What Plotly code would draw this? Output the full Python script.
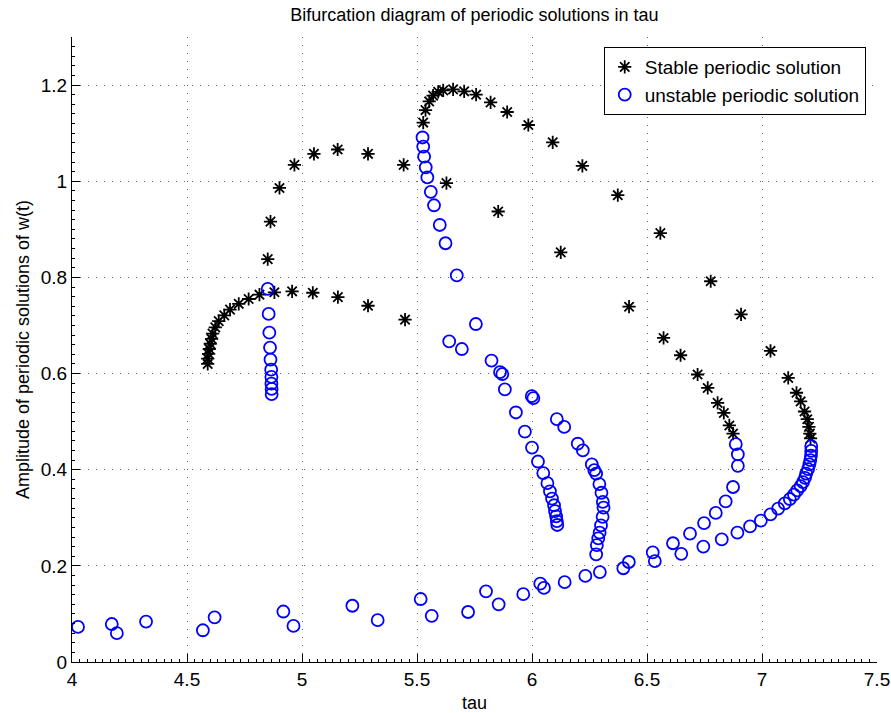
import plotly.graph_objects as go

# ---- Stable periodic solutions (tau, amplitude) ----
stable_a_tau = [4.590, 4.590, 4.594, 4.597, 4.601, 4.607, 4.611, 4.623, 4.638, 4.662,
                4.687, 4.725, 4.768, 4.815, 4.880, 4.957, 5.047, 5.156, 5.287, 5.448]
stable_a_amp = [0.620, 0.631, 0.641, 0.651, 0.662, 0.672, 0.683, 0.696, 0.709, 0.721,
                0.733, 0.745, 0.755, 0.764, 0.769, 0.771, 0.768, 0.759, 0.741, 0.712]

stable_b_tau = [4.851, 4.863, 4.902, 4.967, 5.052, 5.155, 5.287, 5.442, 5.628, 5.853,
                6.125, 6.422, 6.572, 6.646, 6.720, 6.764, 6.807, 6.834, 6.858, 6.874]
stable_b_amp = [0.838, 0.916, 0.986, 1.034, 1.057, 1.066, 1.057, 1.034, 0.996, 0.937,
                0.852, 0.739, 0.674, 0.638, 0.598, 0.570, 0.539, 0.518, 0.492, 0.475]

stable_c_tau = [5.527, 5.537, 5.553, 5.570, 5.592, 5.614, 5.657, 5.705, 5.757, 5.820,
                5.892, 5.984, 6.090, 6.219, 6.373, 6.558, 6.777, 6.909, 7.037, 7.114,
                7.150, 7.168, 7.185, 7.197, 7.204, 7.208, 7.211]
stable_c_amp = [1.122, 1.148, 1.166, 1.178, 1.186, 1.189, 1.191, 1.187, 1.180, 1.164,
                1.144, 1.117, 1.081, 1.032, 0.971, 0.892, 0.792, 0.723, 0.647, 0.591,
                0.560, 0.542, 0.521, 0.505, 0.489, 0.475, 0.465]

# ---- Unstable periodic solutions (tau, amplitude) ----
unstable_a_tau = [4.851, 4.855, 4.858, 4.861, 4.863, 4.866, 4.867, 4.867, 4.868, 4.868]
unstable_a_amp = [0.776, 0.724, 0.685, 0.654, 0.629, 0.608, 0.593, 0.579, 0.568, 0.557]

unstable_b_tau = [5.524, 5.527, 5.531, 5.538, 5.545, 5.560, 5.574, 5.599, 5.624, 5.673,
                  5.756, 5.640, 5.695, 5.824, 5.861, 5.871, 5.882, 5.930, 5.969, 6.000,
                  6.026, 6.049, 6.067, 6.078, 6.087, 6.096, 6.100, 6.105, 6.108, 6.110]
unstable_b_amp = [1.091, 1.072, 1.051, 1.029, 1.008, 0.978, 0.950, 0.909, 0.871, 0.804,
                  0.703, 0.667, 0.651, 0.627, 0.603, 0.599, 0.567, 0.519, 0.479, 0.446,
                  0.417, 0.393, 0.372, 0.355, 0.340, 0.326, 0.314, 0.303, 0.293, 0.285]

unstable_c_tau = [5.999, 6.006, 6.108, 6.140, 6.199, 6.221, 6.260, 6.271, 6.279, 6.293,
                  6.302, 6.308, 6.311, 6.307, 6.300, 6.294, 6.288, 6.282, 6.279]
unstable_c_amp = [0.553, 0.549, 0.505, 0.489, 0.454, 0.440, 0.411, 0.399, 0.392, 0.370,
                  0.352, 0.333, 0.321, 0.302, 0.284, 0.269, 0.257, 0.243, 0.224]

unstable_d_tau = [6.886, 6.895, 6.895]
unstable_d_amp = [0.453, 0.432, 0.408]

unstable_e_tau = [4.026, 4.173, 4.195, 4.322, 4.569, 4.620, 4.919, 4.963, 5.219, 5.329,
                  5.516, 5.564, 5.722, 5.800, 5.855, 5.962, 6.036, 6.052, 6.142, 6.232,
                  6.295, 6.397, 6.421, 6.525, 6.534, 6.613, 6.649, 6.687, 6.745, 6.748,
                  6.799, 6.825, 6.842, 6.874, 6.893, 6.948, 6.995, 7.037, 7.070, 7.099,
                  7.121, 7.139, 7.153, 7.168, 7.178, 7.187, 7.192, 7.200, 7.206, 7.210,
                  7.213, 7.214, 7.214]
unstable_e_amp = [0.073, 0.079, 0.060, 0.084, 0.066, 0.093, 0.105, 0.075, 0.117, 0.087,
                  0.131, 0.096, 0.104, 0.147, 0.120, 0.141, 0.163, 0.154, 0.166, 0.179,
                  0.187, 0.195, 0.208, 0.228, 0.210, 0.247, 0.225, 0.267, 0.240, 0.289,
                  0.310, 0.255, 0.334, 0.364, 0.269, 0.282, 0.294, 0.307, 0.319, 0.330,
                  0.339, 0.348, 0.357, 0.366, 0.374, 0.383, 0.392, 0.401, 0.411, 0.420,
                  0.429, 0.439, 0.449]

x_ticks = [4, 4.5, 5, 5.5, 6, 6.5, 7, 7.5]
x_tick_labels = ["4", "4.5", "5", "5.5", "6", "6.5", "7", "7.5"]
y_ticks = [0, 0.2, 0.4, 0.6, 0.8, 1, 1.2]
y_tick_labels = ["0", "0.2", "0.4", "0.6", "0.8", "1", "1.2"]

stable_tau = stable_a_tau + stable_b_tau + stable_c_tau
stable_amp = stable_a_amp + stable_b_amp + stable_c_amp
unstable_tau = unstable_a_tau + unstable_b_tau + unstable_c_tau + unstable_d_tau + unstable_e_tau
unstable_amp = unstable_a_amp + unstable_b_amp + unstable_c_amp + unstable_d_amp + unstable_e_amp

FONT = "Liberation Sans, Arial, Helvetica, sans-serif"
FS = 19

fig = go.Figure()
fig.add_trace(go.Scatter(
    x=stable_tau, y=stable_amp, mode="markers", name="Stable periodic solution",
    marker=dict(symbol="asterisk-open", size=11, color="black",
                line=dict(color="black", width=1.8)),
))
fig.add_trace(go.Scatter(
    x=unstable_tau, y=unstable_amp, mode="markers", name="unstable periodic solution",
    marker=dict(symbol="circle-open", size=12, color="#0000ff",
                line=dict(color="#0000ff", width=1.8)),
))

axis_common = dict(
    showline=True, linecolor="black", linewidth=1, mirror=False,
    ticks="inside", ticklen=8, tickcolor="black", tickwidth=1,
    showgrid=True, gridcolor="#666666", griddash="1px,7px", gridwidth=1,
    zeroline=False, tickfont=dict(family=FONT, size=FS, color="black"),
    automargin=False,
)

fig.update_xaxes(
    range=[4, 7.5], tickvals=x_ticks, ticktext=x_tick_labels,
    title=dict(text="tau", font=dict(family=FONT, size=FS - 1, color="black"), standoff=9),
    minor=dict(ticks="inside", ticklen=3, dtick=0.5 / 15, tickcolor="black", showgrid=False),
    **axis_common,
)
fig.update_yaxes(
    range=[0, 1.3], tickvals=y_ticks, ticktext=y_tick_labels,
    title=dict(text="Amplitude of periodic solutions of w(t)",
               font=dict(family=FONT, size=FS - 1, color="black"), standoff=6),
    minor=dict(ticks="inside", ticklen=3, dtick=0.02, tickcolor="black", showgrid=False),
    **axis_common,
)

fig.update_layout(
    width=891, height=713,
    margin=dict(l=72, r=14, t=37, b=51),
    paper_bgcolor="white", plot_bgcolor="white",
    title=dict(text="Bifurcation diagram of periodic solutions in tau",
               font=dict(family=FONT, size=FS - 1, color="black"),
               x=0.5325, xanchor="center", y=0.979, yanchor="middle"),
    legend=dict(
        x=0.986, y=0.984, xanchor="right", yanchor="top",
        bgcolor="white", bordercolor="black", borderwidth=1,
        font=dict(family=FONT, size=FS, color="black"),
        itemsizing="trace", tracegroupgap=0,
    ),
    showlegend=True,
)

fig.write_html("out.html")
